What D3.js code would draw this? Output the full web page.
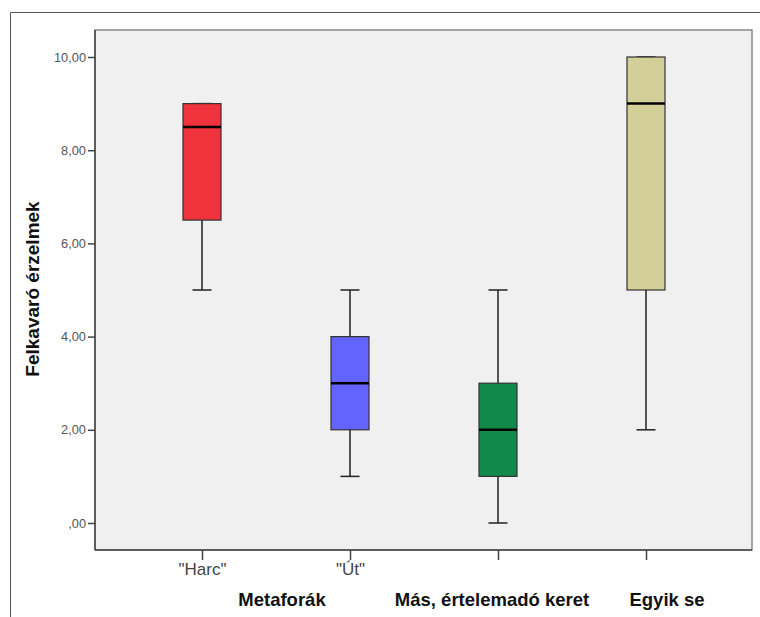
<!DOCTYPE html>
<html>
<head>
<meta charset="utf-8">
<script src="https://cdn.jsdelivr.net/npm/d3@7"></script>
<style>
  body { margin: 0; background: #fff; }
  text { font-family: Arial, "Liberation Sans", sans-serif; }
</style>
</head>
<body>
<script>
// data
var categories = ['"Harc"', '"Út"', "Más, értelemadó keret", "Egyik se"];
var tickLabels = ['"Harc"', '"Út"', "", ""];
var mins    = [5, 1, 0, 2];
var q1s     = [6.5, 2, 1, 5];
var medians = [8.5, 3, 2, 9];
var q3s     = [9, 4, 3, 10];
var maxs    = [9, 5, 5, 10];
var colors  = ["#f0323c", "#6363ff", "#11894a", "#d3cf99"];
var groupNames = ["Metaforák", "Más, értelemadó keret", "Egyik se"];
var groupSpans = [[0, 1], [2, 2], [3, 3]];
var yTicks = [0, 2, 4, 6, 8, 10];
var yTitle = "Felkavaró érzelmek";

var width = 760, height = 617;

var svg = d3.select("body").append("svg")
  .attr("width", width)
  .attr("height", height);

// outer frame (top and left edges only are visible)
svg.append("path")
  .attr("d", "M10.5,617 L10.5,12.5 L760,12.5")
  .attr("fill", "none")
  .attr("stroke", "#555")
  .attr("stroke-width", 1);

var plot = {left: 95, top: 30, right: 752, bottom: 550};

var y = d3.scaleLinear().domain([0, 10]).range([523, 57]);
var x = d3.scalePoint().domain(categories).range([202, 646]);

// plot background
svg.append("rect")
  .attr("x", plot.left).attr("y", plot.top)
  .attr("width", plot.right - plot.left)
  .attr("height", plot.bottom - plot.top)
  .attr("fill", "#f0f0f0")
  .attr("stroke", "#888")
  .attr("stroke-width", 1.5);

// y axis
var yAxis = svg.append("g")
  .attr("transform", "translate(" + plot.left + ",0)")
  .call(d3.axisLeft(y).tickValues(yTicks).tickSize(7).tickPadding(2)
    .tickFormat(function(d){ return d === 0 ? ",00" : d3.format(".2f")(d).replace(".", ","); }));
yAxis.select(".domain").attr("stroke", "#444").attr("stroke-width", 1.5)
  .attr("d", "M0," + plot.top + "V" + plot.bottom);
yAxis.selectAll(".tick line").attr("stroke", "#444").attr("stroke-width", 1.5);
yAxis.selectAll(".tick text").attr("fill", "#555").style("font-size", "12.8px");

// x axis
var xAxis = svg.append("g")
  .attr("transform", "translate(0," + plot.bottom + ")")
  .call(d3.axisBottom(x).tickSize(10).tickPadding(3)
    .tickFormat(function(d, i){ return tickLabels[i]; }));
xAxis.select(".domain").attr("stroke", "#444").attr("stroke-width", 1.5)
  .attr("d", "M" + plot.left + ",0H" + plot.right);
xAxis.selectAll(".tick line").attr("stroke", "#444").attr("stroke-width", 1.5);
xAxis.selectAll(".tick text").attr("fill", "#444").style("font-size", "17px");

// group labels below
var groupDx = [6, -6, 21];
svg.append("g").selectAll("text")
  .data(groupNames)
  .enter().append("text")
  .attr("x", function(d, i){
    var s = groupSpans[i];
    return (x(categories[s[0]]) + x(categories[s[1]])) / 2 + groupDx[i];
  })
  .attr("y", 606)
  .attr("text-anchor", "middle")
  .style("font-size", "18.5px")
  .style("font-weight", "bold")
  .attr("fill", "#111")
  .text(function(d){ return d; });

// y title
svg.append("text")
  .attr("transform", "translate(39,289) rotate(-90)")
  .attr("text-anchor", "middle")
  .style("font-size", "19px")
  .style("font-weight", "bold")
  .attr("fill", "#111")
  .text(yTitle);

// boxes
var boxW = 38, capW = 19;
var boxes = svg.append("g").selectAll("g")
  .data(categories)
  .enter().append("g");

boxes.append("line")
  .attr("x1", function(d){ return x(d); })
  .attr("x2", function(d){ return x(d); })
  .attr("y1", function(d, i){ return y(maxs[i]); })
  .attr("y2", function(d, i){ return y(mins[i]); })
  .attr("stroke", "#222").attr("stroke-width", 1.5);

boxes.append("line")
  .attr("x1", function(d){ return x(d) - capW / 2; })
  .attr("x2", function(d){ return x(d) + capW / 2; })
  .attr("y1", function(d, i){ return y(maxs[i]); })
  .attr("y2", function(d, i){ return y(maxs[i]); })
  .attr("stroke", "#222").attr("stroke-width", 1.5);

boxes.append("line")
  .attr("x1", function(d){ return x(d) - capW / 2; })
  .attr("x2", function(d){ return x(d) + capW / 2; })
  .attr("y1", function(d, i){ return y(mins[i]); })
  .attr("y2", function(d, i){ return y(mins[i]); })
  .attr("stroke", "#222").attr("stroke-width", 1.5);

boxes.append("rect")
  .attr("x", function(d){ return x(d) - boxW / 2; })
  .attr("y", function(d, i){ return y(q3s[i]); })
  .attr("width", boxW)
  .attr("height", function(d, i){ return y(q1s[i]) - y(q3s[i]); })
  .attr("fill", function(d, i){ return colors[i]; })
  .attr("stroke", "#333").attr("stroke-width", 1.2);

boxes.append("line")
  .attr("x1", function(d){ return x(d) - boxW / 2; })
  .attr("x2", function(d){ return x(d) + boxW / 2; })
  .attr("y1", function(d, i){ return y(medians[i]); })
  .attr("y2", function(d, i){ return y(medians[i]); })
  .attr("stroke", "#000").attr("stroke-width", 2.5);
</script>
</body>
</html>
